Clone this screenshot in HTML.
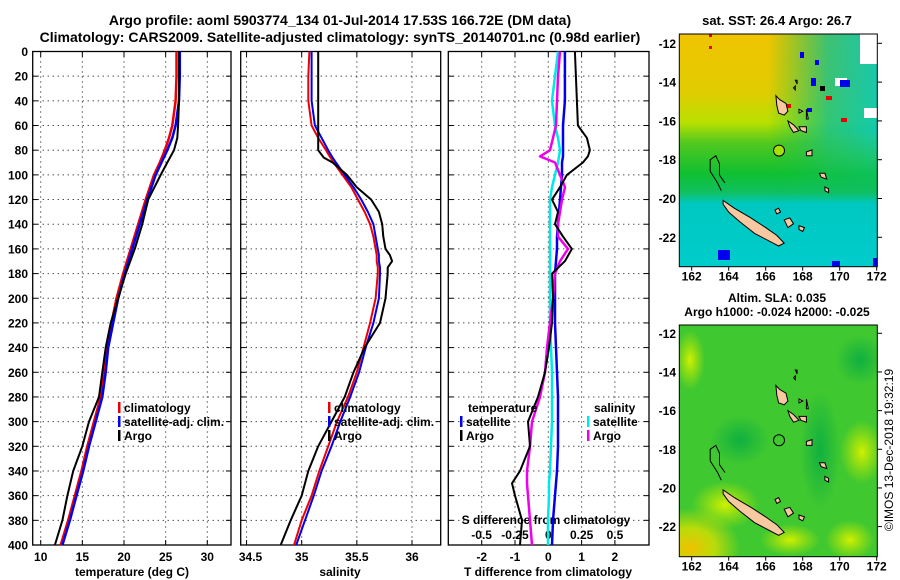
<!DOCTYPE html>
<html><head><meta charset="utf-8">
<style>
html,body{margin:0;padding:0;background:#fff;}
svg{display:block;font-family:"Liberation Sans",Arial,sans-serif;font-weight:bold;}
</style></head>
<body>
<svg id="chart" width="900" height="580" viewBox="0 0 900 580" xmlns="http://www.w3.org/2000/svg">
<defs>
  <linearGradient id="sstv" x1="0" y1="0" x2="0" y2="1">
    <stop offset="0" stop-color="#f0c400"/>
    <stop offset="0.25" stop-color="#e0cc00"/>
    <stop offset="0.38" stop-color="#b8e000"/>
    <stop offset="0.47" stop-color="#50c820"/>
    <stop offset="0.6" stop-color="#10c030"/>
    <stop offset="0.68" stop-color="#10c060"/>
    <stop offset="0.73" stop-color="#00c8c0"/>
    <stop offset="1" stop-color="#00cccc"/>
  </linearGradient>
  <linearGradient id="ssth" x1="0" y1="0" x2="1" y2="0">
    <stop offset="0" stop-color="#10c050" stop-opacity="0"/>
    <stop offset="0.45" stop-color="#10c050" stop-opacity="0"/>
    <stop offset="0.75" stop-color="#10c090" stop-opacity="0.8"/>
    <stop offset="1" stop-color="#00c8c0" stop-opacity="0.9"/>
  </linearGradient>
  <linearGradient id="fadev" x1="0" y1="0" x2="0" y2="1">
    <stop offset="0" stop-color="#fff"/>
    <stop offset="0.6" stop-color="#fff"/>
    <stop offset="1" stop-color="#000"/>
  </linearGradient>
  <mask id="m1"><rect x="679.3" y="34" width="198" height="160" fill="url(#fadev)"/></mask>
  <radialGradient id="y1"><stop offset="0" stop-color="#f0c000"/><stop offset="0.5" stop-color="#d8e000" stop-opacity="0.8"/><stop offset="1" stop-color="#d8e000" stop-opacity="0"/></radialGradient>
  <radialGradient id="y2"><stop offset="0" stop-color="#d0f000"/><stop offset="1" stop-color="#c0e800" stop-opacity="0"/></radialGradient>
  <radialGradient id="g2"><stop offset="0" stop-color="#10b040"/><stop offset="1" stop-color="#10b040" stop-opacity="0"/></radialGradient>
  <clipPath id="clip1"><rect x="679.3" y="34" width="198" height="232.7"/></clipPath>
  <clipPath id="clip2"><rect x="679.3" y="325" width="198" height="231.7"/></clipPath>
</defs>

<text x="340" y="25" font-size="14" text-anchor="middle">Argo profile: aoml 5903774_134 01-Jul-2014 17.53S 166.72E (DM data)</text>
<text x="340" y="42" font-size="14" text-anchor="middle">Climatology: CARS2009. Satellite-adjusted climatology: synTS_20140701.nc (0.98d earlier)</text>

<g id="panels"></g>

<g>
  <text x="777" y="25" font-size="13" text-anchor="middle">sat. SST: 26.4 Argo: 26.7</text>
  <g clip-path="url(#clip1)">
    <rect x="679.3" y="34" width="198" height="232.7" fill="url(#sstv)"/>
    <rect x="679.3" y="34" width="198" height="160" fill="url(#ssth)" mask="url(#m1)"/>
    <rect x="860" y="34" width="18" height="30" fill="#fff"/>
    <rect x="835" y="78" width="12" height="8" fill="#fff"/>
    <rect x="864" y="108" width="14" height="10" fill="#fff"/>
    <rect x="800" y="52" width="4" height="6" fill="#0000ee"/>
    <rect x="815" y="60" width="4" height="5" fill="#0000ee"/>
    <rect x="811" y="78" width="5" height="8" fill="#0000ee"/>
    <rect x="840" y="80" width="10" height="7" fill="#0000ee"/>
    <rect x="820" y="86" width="5" height="5" fill="#000"/>
    <rect x="826" y="96" width="6" height="4" fill="#ee0000"/>
    <rect x="841" y="118" width="6" height="4" fill="#ee0000"/>
    <rect x="807" y="108" width="5" height="4" fill="#0000ee"/>
    <rect x="786" y="104" width="5" height="4" fill="#ee0000"/>
    <rect x="709" y="34" width="3" height="3" fill="#ee0000"/>
    <rect x="709" y="46" width="3" height="3" fill="#ee0000"/>
    <rect x="718" y="250" width="12" height="10" fill="#0000ee"/>
    <rect x="832" y="261" width="8" height="6" fill="#0000ee"/>
    <rect x="873" y="258" width="5" height="8" fill="#0000ee"/>
  </g>
  <g id="islands1"></g>
  <rect x="679.3" y="34" width="198" height="232.7" fill="none" stroke="#000" stroke-width="1"/>
  <g id="maxes1"></g>
</g>

<g>
  <text x="777" y="302" font-size="12" text-anchor="middle">Altim. SLA: 0.035</text>
  <text x="777" y="316" font-size="12" text-anchor="middle">Argo h1000: -0.024 h2000: -0.025</text>
  <g clip-path="url(#clip2)">
    <rect x="679.3" y="325" width="198" height="231.7" fill="#40c830"/>
    <ellipse cx="690" cy="548" rx="50" ry="40" fill="url(#y1)"/>
    <ellipse cx="862" cy="452" rx="22" ry="32" fill="url(#y2)"/>
    <ellipse cx="725" cy="505" rx="34" ry="24" fill="url(#y2)"/>
    <ellipse cx="850" cy="540" rx="25" ry="20" fill="url(#y2)"/>
    <ellipse cx="690" cy="360" rx="15" ry="30" fill="url(#y2)"/>
    <ellipse cx="790" cy="540" rx="30" ry="16" fill="url(#y2)"/>
    <ellipse cx="860" cy="360" rx="25" ry="25" fill="url(#g2)"/>
    <ellipse cx="820" cy="450" rx="20" ry="60" fill="url(#g2)"/>
    <ellipse cx="740" cy="440" rx="30" ry="25" fill="url(#g2)"/>
  </g>
  <g id="islands2"></g>
  <rect x="679.3" y="325" width="198" height="231.7" fill="none" stroke="#000" stroke-width="1"/>
  <g id="maxes2"></g>
</g>

<text transform="translate(893,450) rotate(-90)" font-size="12" font-weight="normal" text-anchor="middle">©IMOS 13-Dec-2018 19:32:19</text>

<script>
const pressureTS = [0,20,40,60,70,80,90,100,120,140,160,180,200,220,240,260,280,300,320,340,360,380,400];
const tempArgo   = [26.6,26.6,26.6,26.5,26.4,26.0,25.2,24.4,22.9,22.2,21.3,20.2,19.3,18.4,17.8,17.4,17.0,15.8,15.0,13.9,13.2,12.6,11.7];
const tempClim   = [26.3,26.3,26.2,25.8,25.4,24.9,24.3,23.6,22.6,21.7,20.8,19.9,19.1,18.5,17.9,17.6,17.2,16.4,15.6,14.9,14.1,13.3,12.4];
const tempSat    = [26.7,26.7,26.6,26.2,25.8,25.2,24.5,23.8,22.8,21.9,21.0,20.1,19.3,18.7,18.1,17.8,17.4,16.6,15.8,15.1,14.3,13.5,12.6];

const pressureS = [0,20,40,60,70,80,86,90,100,110,120,130,140,150,160,165,170,175,180,200,220,240,260,280,300,320,340,360,380,400];
const salArgo   = [35.15,35.15,35.15,35.15,35.15,35.15,35.20,35.28,35.41,35.50,35.63,35.70,35.73,35.74,35.76,35.80,35.82,35.78,35.78,35.76,35.71,35.57,35.47,35.39,35.27,35.15,35.06,35.00,34.90,34.81];
const salClim   = [35.07,35.06,35.06,35.09,35.15,35.22,35.26,35.29,35.37,35.45,35.51,35.57,35.62,35.65,35.67,35.68,35.68,35.69,35.69,35.67,35.62,35.56,35.50,35.42,35.32,35.24,35.16,35.09,35.00,34.93];
const salSat    = [35.09,35.09,35.09,35.12,35.18,35.24,35.28,35.31,35.39,35.47,35.54,35.60,35.65,35.67,35.69,35.70,35.70,35.71,35.71,35.70,35.65,35.58,35.52,35.44,35.35,35.27,35.18,35.11,35.03,34.95];

const pressureD = [0,20,40,60,70,80,85,90,100,110,120,130,140,150,160,170,180,200,220,240,260,280,300,320,340,350,360,380,400];
const tDiffArgo = [0.80,0.83,0.86,0.89,1.16,1.25,1.19,1.04,0.56,0.35,0.11,0.29,0.20,0.44,0.71,0.50,0.11,0.14,0.11,0.02,-0.10,-0.31,-0.61,-0.55,-0.85,-1.09,-1.00,-0.79,-0.85];
const tDiffSat  = [0.50,0.50,0.50,0.44,0.44,0.44,0.44,0.41,0.41,0.38,0.35,0.32,0.29,0.26,0.26,0.23,0.20,0.20,0.20,0.23,0.26,0.29,0.29,0.29,0.26,0.23,0.20,0.14,0.11];
const sDiffArgo = [0.088,0.073,0.065,0.058,0.035,0.013,-0.062,0.050,0.088,0.125,0.103,0.088,0.073,0.073,0.148,0.088,0.050,0.035,0.013,-0.010,-0.025,-0.062,-0.122,-0.137,-0.160,-0.160,-0.152,-0.137,-0.122];
const sDiffSat  = [0.073,0.050,0.028,0.050,0.073,0.088,0.080,0.073,0.050,0.028,0.013,0.013,0.013,0.013,0.013,0.013,0.013,0.013,0.013,0.020,0.028,0.028,0.028,0.020,0.013,0.005,0.005,-0.002,-0.002];

const pressureTicks = [0,20,40,60,80,100,120,140,160,180,200,220,240,260,280,300,320,340,360,380,400];
const tempTicks = [10,15,20,25,30];
const salTicks = [34.5,35,35.5,36];
const salTickLabels = ["34.5","35","35.5","36"];
const tDiffTicks = [-2,-1,0,1,2];
const sDiffTicks = [-0.5,-0.25,0,0.25,0.5];
const sDiffTickLabels = ["-0.5","-0.25","0","0.25","0.5"];
const latTicks = [-12,-14,-16,-18,-20,-22];
const lonTicks = [162,164,166,168,170,172];

const NS = "http://www.w3.org/2000/svg";
const TOP = 51.5, BOT = 545;
const yP = p => TOP + p * (BOT - TOP) / 400;
const xT = t => 40.7 + (t - 10) * 8.33;
const xS = s => 301.7 + (s - 35) * 110.3;
const xTD = d => 548.3 + d * 33.3;
const xSD = d => 548.3 + d * 133.3;

function mk(tag, attrs, parent) {
  const e = document.createElementNS(NS, tag);
  for (const k in attrs) e.setAttribute(k, attrs[k]);
  parent.appendChild(e);
  return e;
}
const panelsG = document.getElementById('panels');

const panels = [
  {name:'temperature-panel', x0:32.7, x1:231},
  {name:'salinity-panel', x0:240.7, x1:440.7},
  {name:'difference-panel', x0:448.3, x1:649}
];

panels.forEach((pn, i) => {
  const g = mk('g', {}, panelsG);
  
  
  pressureTicks.forEach(p => {
    const y = yP(p);
    if (p > 0 && p < 400) {
      const l = mk('line', {x1:pn.x0, x2:pn.x1, y1:y, y2:y, stroke:'#000', 'stroke-width':1, 'stroke-dasharray':'1,4'}, g);
      
      
    }
    mk('line', {x1:pn.x0, x2:pn.x0+5, y1:y, y2:y, stroke:'#000'}, g);
    mk('line', {x1:pn.x1-5, x2:pn.x1, y1:y, y2:y, stroke:'#000'}, g);
  });
  let vticks, xf;
  if (i === 0) { vticks = tempTicks; xf = xT; }
  else if (i === 1) { vticks = salTicks; xf = xS; }
  else { vticks = tDiffTicks; xf = xTD; }
  vticks.forEach(v => {
    const x = xf(v);
    if (x > pn.x0 + 1 && x < pn.x1 - 1) {
      const l = mk('line', {x1:x, x2:x, y1:TOP, y2:BOT, stroke:'#000', 'stroke-width':1, 'stroke-dasharray':'1,4'}, g);
      
      
    }
    mk('line', {x1:x, x2:x, y1:BOT-5, y2:BOT, stroke:'#000'}, g);
    mk('line', {x1:x, x2:x, y1:TOP, y2:TOP+5, stroke:'#000'}, g);
  });
  const fr = mk('rect', {x:pn.x0, y:TOP, width:pn.x1-pn.x0, height:BOT-TOP, fill:'none', stroke:'#000', 'stroke-width':1.3}, g);
  
  
});

pressureTicks.forEach(p => {
  const t = mk('text', {x:28, y:yP(p)+4.5, 'font-size':12, 'text-anchor':'end'}, panelsG);
  t.textContent = p;
  
  
});
tempTicks.forEach(v => {
  const t = mk('text', {x:xT(v), y:561, 'font-size':12, 'text-anchor':'middle'}, panelsG);
  t.textContent = v;
  
  
});
salTicks.forEach((v, k) => {
  const t = mk('text', {x:xS(v) - (k===0?-4:0), y:561, 'font-size':12, 'text-anchor':'middle'}, panelsG);
  t.textContent = salTickLabels[k];
  
  
});
tDiffTicks.forEach(v => {
  const t = mk('text', {x:xTD(v), y:561, 'font-size':12, 'text-anchor':'middle'}, panelsG);
  t.textContent = v;
  
  
});
sDiffTicks.forEach((v, k) => {
  const t = mk('text', {x:xSD(v), y:539, 'font-size':12, 'text-anchor':'middle'}, panelsG);
  t.textContent = sDiffTickLabels[k];
  
  
});
[['temperature (deg C)',132,'temperature-axis-title'],['salinity',340,'salinity-axis-title'],['T difference from climatology',548,'t-diff-axis-title']].forEach(a => {
  const t = mk('text', {x:a[1], y:576, 'font-size':12, 'text-anchor':'middle'}, panelsG);
  t.textContent = a[0];
  
  
});
{
  const t = mk('text', {x:546, y:524, 'font-size':12, 'text-anchor':'middle'}, panelsG);
  t.textContent = 'S difference from climatology';
  
  
}

function series(xs, ps, xf, color, w, name) {
  const d = xs.map((v, k) => (k ? 'L' : 'M') + xf(v).toFixed(1) + ',' + yP(ps[k]).toFixed(1)).join('');
  const path = mk('path', {d:d, fill:'none', stroke:color, 'stroke-width':w, 'stroke-linejoin':'round'}, panelsG);
  
  
}
series(tempClim, pressureTS, xT, '#ee0000', 2.5, 'temperature-climatology-line');
series(tempSat, pressureTS, xT, '#0000ee', 2.5, 'temperature-satellite-line');
series(tempArgo, pressureTS, xT, '#000', 2, 'temperature-argo-line');
series(salClim, pressureS, xS, '#ee0000', 2, 'salinity-climatology-line');
series(salSat, pressureS, xS, '#0000ee', 2, 'salinity-satellite-line');
series(salArgo, pressureS, xS, '#000', 2, 'salinity-argo-line');
series(sDiffSat, pressureD, xSD, '#00e8e8', 2.5, 's-diff-satellite-line');
series(tDiffSat, pressureD, xTD, '#0000ee', 2.5, 't-diff-satellite-line');
series(sDiffArgo, pressureD, xSD, '#ee00ee', 2.5, 's-diff-argo-line');
series(tDiffArgo, pressureD, xTD, '#000', 2, 't-diff-argo-line');

function legend(x, y, color, label, name) {
  const r = mk('rect', {x:x, y:y-10, width:2.5, height:11, fill:color}, panelsG);
  
  
  const t = mk('text', {x:x+6, y:y, 'font-size':12}, panelsG);
  t.textContent = label;
  
  
}
legend(118, 412, '#ee0000', 'climatology', 'legend-climatology');
legend(118, 426, '#0000ee', 'satellite-adj. clim.', 'legend-satellite');
legend(118, 440, '#000', 'Argo', 'legend-argo');
legend(328, 412, '#ee0000', 'climatology', 'legend-climatology');
legend(328, 426, '#0000ee', 'satellite-adj. clim.', 'legend-satellite');
legend(328, 440, '#000', 'Argo', 'legend-argo');
{
  const t = mk('text', {x:468, y:412, 'font-size':12}, panelsG); t.textContent = 'temperature';
  
  
  const t2 = mk('text', {x:594, y:412, 'font-size':12}, panelsG); t2.textContent = 'salinity';
  
  
}
legend(460, 426, '#0000ee', 'satellite', 'legend-t-satellite');
legend(460, 440, '#000', 'Argo', 'legend-t-argo');
legend(587, 426, '#00e8e8', 'satellite', 'legend-s-satellite');
legend(587, 440, '#ee00ee', 'Argo', 'legend-s-argo');

const LX = lon => 691.7 + (lon - 162) * 18.5;
const LY1 = lat => 43.3 + (-12 - lat) * 19.4;
const LY2 = lat => 333.3 + (-12 - lat) * 19.33;

const islands = [
  [[163.7,-20.1],[164.3,-20.5],[165.2,-21.0],[166.0,-21.5],[166.6,-21.9],[167.0,-22.3],[166.7,-22.45],[166.2,-22.2],[165.4,-21.8],[164.6,-21.2],[164.0,-20.7],[163.7,-20.3]],
  [[166.55,-14.7],[166.75,-14.9],[167.1,-15.1],[167.2,-15.5],[167.0,-15.7],[166.7,-15.6],[166.6,-15.2]],
  [[167.2,-16.0],[167.5,-16.2],[167.8,-16.5],[167.5,-16.6],[167.3,-16.3]],
  [[168.2,-17.6],[168.5,-17.5],[168.5,-17.8],[168.2,-17.8]],
  [[168.9,-18.7],[169.2,-18.7],[169.3,-19.0],[169.0,-18.9]],
  [[169.2,-19.4],[169.4,-19.5],[169.4,-19.7],[169.2,-19.6]],
  [[167.8,-16.3],[168.2,-16.3],[168.2,-16.6],[167.9,-16.5]],
  [[168.2,-15.4],[168.3,-15.9],[168.2,-15.9]],
  [[166.5,-20.6],[166.7,-20.5],[166.8,-20.7],[166.6,-20.8]],
  [[167.0,-21.1],[167.3,-21.0],[167.5,-21.3],[167.2,-21.5]],
  [[167.8,-21.4],[168.1,-21.5],[168.0,-21.7],[167.8,-21.6]],
  [[167.8,-15.4],[168.0,-15.5],[167.8,-15.6]],
  [[167.5,-14.3],[167.6,-14.2],[167.6,-14.4]],
  [[167.6,-13.9],[167.7,-13.9],[167.7,-14.1]]
];
const reef = [[163.6,-19.6],[163.4,-19.2],[163.0,-18.6],[163.0,-18.0],[163.3,-17.8],[163.5,-18.2],[163.5,-18.8],[163.8,-19.2]];

function drawMap(gid, LY, axid, bottomY, circleFill) {
  const g = document.getElementById(gid);
  islands.forEach(pts => {
    const pg = mk('polygon', {points: pts.map(q => LX(q[0]).toFixed(1)+','+LY(q[1]).toFixed(1)).join(' '), fill:'#f8c8a0', stroke:'#000', 'stroke-width':1}, g);
    
    
  });
  const rf = mk('polyline', {points: reef.map(q => LX(q[0]).toFixed(1)+','+LY(q[1]).toFixed(1)).join(' '), fill:'none', stroke:'#000', 'stroke-width':1}, g);
  
  
  const c = mk('circle', {cx:LX(166.72), cy:LY(-17.53), r:5.5, fill:circleFill, stroke:'#000', 'stroke-width':1}, g);
  
  
  const ax = document.getElementById(axid);
  latTicks.forEach(lat => {
    const y = LY(lat);
    const t = mk('text', {x:676, y:y+4.5, 'font-size':12, 'text-anchor':'end'}, ax);
    t.textContent = lat;
    
    
    mk('line', {x1:877, x2:882, y1:y, y2:y, stroke:'#000'}, ax);
  });
  lonTicks.forEach(lon => {
    const x = LX(lon);
    const t = mk('text', {x:x, y:bottomY+14, 'font-size':12, 'text-anchor':'middle'}, ax);
    t.textContent = lon;
    
    
    mk('line', {x1:x, x2:x, y1:bottomY, y2:bottomY+4, stroke:'#000'}, ax);
  });
}
drawMap('islands1', LY1, 'maxes1', 266.7, '#a8e000');
drawMap('islands2', LY2, 'maxes2', 556.7, 'none');
</script>
</svg>
</body></html>
